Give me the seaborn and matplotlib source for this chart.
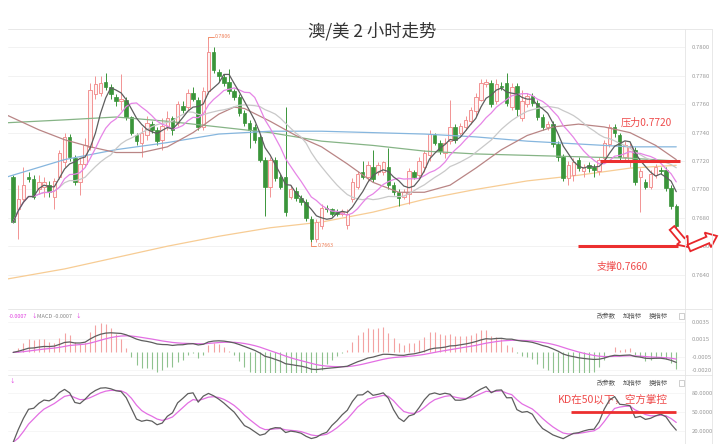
import numpy as np
import pandas as pd
import matplotlib
matplotlib.use("Agg")
import matplotlib.pyplot as plt
from matplotlib.lines import Line2D
from matplotlib.patches import FancyArrow, Rectangle
import seaborn as sns

# ---------------- data ----------------
title = "澳/美 2 小时走势"

open_ = [0.7709, 0.7686, 0.7693, 0.7709, 0.7707, 0.7700, 0.7702, 0.7703, 0.7695, 0.7709,
         0.7719, 0.7737, 0.7722, 0.7705, 0.7718, 0.7730, 0.7767, 0.7768, 0.7776, 0.7772,
         0.7765, 0.7762, 0.7763, 0.7751, 0.7738, 0.7733, 0.7738, 0.7746, 0.7742, 0.7735,
         0.7745, 0.7750, 0.7747, 0.7759, 0.7758, 0.7768, 0.7763, 0.7744, 0.7769, 0.7797,
         0.7783, 0.7779, 0.7776, 0.7769, 0.7765, 0.7754, 0.7747, 0.7744, 0.7737, 0.7721,
         0.7702, 0.7721, 0.7709, 0.7709, 0.7695, 0.7699, 0.7694, 0.7691, 0.7679, 0.7665,
         0.7674, 0.7687, 0.7686, 0.7684, 0.7683, 0.7675, 0.7693, 0.7702, 0.7712, 0.7709,
         0.7716, 0.7712, 0.7712, 0.7716, 0.7703, 0.7698, 0.7695, 0.7697, 0.7712, 0.7710,
         0.7716, 0.7724, 0.7738, 0.7733, 0.7726, 0.7734, 0.7744, 0.7740, 0.7744, 0.7748,
         0.7755, 0.7763, 0.7774, 0.7775, 0.7762, 0.7773, 0.7775, 0.7758, 0.7773, 0.7750,
         0.7760, 0.7766, 0.7761, 0.7751, 0.7744, 0.7746, 0.7732, 0.7723, 0.7708, 0.7710,
         0.7721, 0.7713, 0.7717, 0.7716, 0.7713, 0.7722, 0.7732, 0.7744, 0.7738, 0.7723,
         0.7720, 0.7728, 0.7709, 0.7705, 0.7702, 0.7710, 0.7714, 0.7714, 0.7701, 0.7688]

high = [0.7710, 0.7703, 0.7716, 0.7712, 0.7710, 0.7710, 0.7709, 0.7706, 0.7708, 0.7728,
        0.7740, 0.7739, 0.7724, 0.7722, 0.7736, 0.7775, 0.7780, 0.7780, 0.7782, 0.7774,
        0.7767, 0.7781, 0.7765, 0.7752, 0.7740, 0.7744, 0.7752, 0.7748, 0.7744, 0.7750,
        0.7755, 0.7752, 0.7762, 0.7762, 0.7771, 0.7772, 0.7765, 0.7772, 0.7806, 0.7800,
        0.7785, 0.7781, 0.7785, 0.7771, 0.7767, 0.7756, 0.7749, 0.7746, 0.7739, 0.7723,
        0.7723, 0.7723, 0.7711, 0.7758, 0.7703, 0.7702, 0.7696, 0.7693, 0.7681, 0.7679,
        0.7690, 0.7689, 0.7687, 0.7686, 0.7686, 0.7686, 0.7708, 0.7713, 0.7720, 0.7720,
        0.7728, 0.7719, 0.7720, 0.7729, 0.7705, 0.7700, 0.7700, 0.7715, 0.7714, 0.7723,
        0.7728, 0.7742, 0.7740, 0.7735, 0.7736, 0.7763, 0.7746, 0.7747, 0.7752, 0.7758,
        0.7768, 0.7778, 0.7778, 0.7777, 0.7778, 0.7776, 0.7782, 0.7775, 0.7775, 0.7770,
        0.7768, 0.7768, 0.7763, 0.7753, 0.7748, 0.7748, 0.7734, 0.7725, 0.7720, 0.7722,
        0.7723, 0.7718, 0.7719, 0.7718, 0.7723, 0.7735, 0.7746, 0.7746, 0.7740, 0.7734,
        0.7733, 0.7730, 0.7715, 0.7707, 0.7714, 0.7718, 0.7716, 0.7716, 0.7703, 0.7690]

low = [0.7676, 0.7665, 0.7691, 0.7705, 0.7693, 0.7697, 0.7695, 0.7695, 0.7686, 0.7707,
       0.7716, 0.7720, 0.7703, 0.7696, 0.7716, 0.7728, 0.7764, 0.7766, 0.7770, 0.7764,
       0.7759, 0.7756, 0.7749, 0.7738, 0.7731, 0.7723, 0.7735, 0.7740, 0.7731, 0.7728,
       0.7742, 0.7738, 0.7745, 0.7754, 0.7756, 0.7762, 0.7742, 0.7742, 0.7767, 0.7782,
       0.7776, 0.7773, 0.7767, 0.7763, 0.7752, 0.7745, 0.7729, 0.7733, 0.7719, 0.7681,
       0.7695, 0.7706, 0.7700, 0.7681, 0.7693, 0.7692, 0.7689, 0.7678, 0.7663, 0.7663,
       0.7672, 0.7684, 0.7681, 0.7681, 0.7681, 0.7672, 0.7691, 0.7700, 0.7707, 0.7706,
       0.7705, 0.7710, 0.7710, 0.7700, 0.7696, 0.7688, 0.7693, 0.7690, 0.7707, 0.7707,
       0.7712, 0.7720, 0.7731, 0.7725, 0.7722, 0.7732, 0.7733, 0.7738, 0.7742, 0.7746,
       0.7752, 0.7762, 0.7772, 0.7758, 0.7760, 0.7770, 0.7759, 0.7756, 0.7752, 0.7748,
       0.7758, 0.7759, 0.7749, 0.7742, 0.7742, 0.7730, 0.7720, 0.7706, 0.7703, 0.7706,
       0.7713, 0.7709, 0.7712, 0.7709, 0.7710, 0.7720, 0.7730, 0.7737, 0.7721, 0.7720,
       0.7716, 0.7703, 0.7684, 0.7700, 0.7700, 0.7708, 0.7711, 0.7699, 0.7686, 0.7672]

close = [0.7677, 0.7693, 0.7703, 0.7707, 0.7695, 0.7705, 0.7705, 0.7698, 0.7706, 0.7726,
         0.7737, 0.7723, 0.7705, 0.7718, 0.7731, 0.7770, 0.7774, 0.7775, 0.7772, 0.7767,
         0.7762, 0.7764, 0.7751, 0.7740, 0.7734, 0.7740, 0.7747, 0.7742, 0.7734, 0.7745,
         0.7750, 0.7742, 0.7760, 0.7756, 0.7768, 0.7764, 0.7744, 0.7769, 0.7797, 0.7784,
         0.7780, 0.7775, 0.7769, 0.7765, 0.7754, 0.7747, 0.7742, 0.7735, 0.7721, 0.7702,
         0.7721, 0.7708, 0.7702, 0.7684, 0.7700, 0.7694, 0.7691, 0.7680, 0.7665, 0.7677,
         0.7687, 0.7686, 0.7683, 0.7683, 0.7684, 0.7683, 0.7705, 0.7711, 0.7709, 0.7717,
         0.7707, 0.7717, 0.7719, 0.7703, 0.7698, 0.7694, 0.7698, 0.7713, 0.7709, 0.7720,
         0.7726, 0.7739, 0.7733, 0.7727, 0.7733, 0.7744, 0.7735, 0.7745, 0.7749, 0.7756,
         0.7765, 0.7775, 0.7776, 0.7760, 0.7774, 0.7772, 0.7761, 0.7772, 0.7757, 0.7762,
         0.7766, 0.7761, 0.7751, 0.7744, 0.7746, 0.7732, 0.7723, 0.7708, 0.7717, 0.7719,
         0.7715, 0.7716, 0.7715, 0.7714, 0.7721, 0.7733, 0.7744, 0.7740, 0.7723, 0.7731,
         0.7730, 0.7705, 0.7713, 0.7702, 0.7711, 0.7716, 0.7713, 0.7701, 0.7688, 0.7674]

# long moving averages at sample bars
long_idx = [-1, 10, 20, 30, 40, 50, 60, 70, 80, 90, 100, 110, 120, 129]
ma_orange = [0.7637, 0.7644, 0.7652, 0.7660, 0.7667, 0.7673, 0.7677, 0.7684, 0.7693, 0.7700,
             0.7706, 0.7710, 0.7715, 0.7717]
ma_green = [0.7747, 0.7749, 0.7751, 0.7748, 0.7744, 0.7740, 0.7734, 0.7731, 0.7727, 0.7725,
            0.7724, 0.7723, 0.7722, 0.7720]
ma_blue = [0.7709, 0.7721, 0.7728, 0.7733, 0.7739, 0.7741, 0.7741, 0.7740, 0.7739, 0.7737,
           0.7734, 0.7732, 0.7730, 0.7730]
brown_idx = [-1, 5, 10, 15, 20, 25, 30, 35, 40, 43, 45, 50, 55, 60, 65, 70, 75, 80, 85, 90,
             95, 100, 105, 110, 115, 120, 125, 129]
ma_brown = [0.7752, 0.7742, 0.7735, 0.7730, 0.7726, 0.7726, 0.7730, 0.7740, 0.7753, 0.7758,
            0.7757, 0.7748, 0.7738, 0.7730, 0.7718, 0.7705, 0.7698, 0.7698, 0.7703, 0.7715,
            0.7728, 0.7738, 0.7744, 0.7746, 0.7744, 0.7740, 0.7731, 0.7721]

price_ticks = [0.7640, 0.7660, 0.7680, 0.7700, 0.7720, 0.7740, 0.7760, 0.7780, 0.7800]
macd_ticks = [0.0035, 0.0015, -0.0005, -0.0020]
kd_ticks = [20, 50, 80]

resistance = 0.7720
support = 0.7660
kd_level = 50
resistance_text = "压力0.7720"
support_text = "支撑0.7660"
kd_text = "KD在50以下，空方掌控"
high_label = "0.7806"
low_label = "0.7663"
macd_head = ["-0.0007", "↓", "MACD -0.0007", "↓"]
buttons = ["改参数", "加指标", "换指标"]
hist_scale = 5  # the platform draws its MACD bars on a larger scale than the lines

# ---------------- indicators from the candles ----------------
df = pd.DataFrame({"open": open_, "high": high, "low": low, "close": close})
n = len(df)
df["x"] = np.arange(n)
df["ma5"] = df["close"].rolling(5, min_periods=1).mean()
df["ma10"] = df["close"].rolling(10, min_periods=1).mean()
df["ma20"] = df["close"].rolling(20, min_periods=1).mean()
ema12 = df["close"].ewm(span=12, adjust=False).mean()
ema26 = df["close"].ewm(span=26, adjust=False).mean()
df["dif"] = ema12 - ema26
df["dea"] = df["dif"].ewm(span=9, adjust=False).mean()
df["hist"] = hist_scale * (df["dif"] - df["dea"])
llv = df["low"].rolling(9, min_periods=1).min()
hhv = df["high"].rolling(9, min_periods=1).max()
rsv = (df["close"] - llv) / (hhv - llv) * 100
df["k"] = rsv.ewm(alpha=1 / 3, adjust=False).mean()
df["d"] = df["k"].ewm(alpha=1 / 3, adjust=False).mean()

# ---------------- styling ----------------
sns.set_theme(style="white")
plt.rcParams["font.family"] = ["Noto Sans CJK SC", "DejaVu Sans"]
plt.rcParams["axes.unicode_minus"] = False

W, H = 720, 444
fig = plt.figure(figsize=(7.2, 4.44), dpi=100)
fig.patch.set_facecolor("white")


def fx(px):
    return px / W


def fy(py):
    return 1 - py / H


L, R = 8, 685
ax = fig.add_axes([fx(L), fy(303), fx(R) - fx(L), fy(29) - fy(303)])
axm = fig.add_axes([fx(L), fy(373), fx(R) - fx(L), fy(311) - fy(373)])
axk = fig.add_axes([fx(L), fy(442), fx(R) - fx(L), fy(376) - fy(442)])

XLIM = (-1, 130.7)
for a in (ax, axm, axk):
    a.set_xlim(*XLIM)
    a.set_facecolor("white")
    for s in a.spines.values():
        s.set_visible(False)
    a.set_xticks([])
    a.yaxis.tick_right()
    a.tick_params(axis="y", length=0, labelsize=4.3, labelcolor="#9a9a9a", pad=5)

UP_EDGE = "#f29393"
UP_FACE = "#fff3f3"
DOWN = "#3a953a"

# candles
x = df["x"].values
o = df["open"].values
c = df["close"].values
hi = df["high"].values
lo = df["low"].values
up = c >= o
ax.vlines(x[up], lo[up], hi[up], color=UP_EDGE, lw=0.7, zorder=3)
ax.vlines(x[~up], lo[~up], hi[~up], color=DOWN, lw=0.7, zorder=3)
body_b = np.minimum(o, c)
body_h = np.maximum(np.abs(c - o), 0.00004)
ax.bar(x[up], body_h[up], bottom=body_b[up], width=0.68, color=UP_FACE,
       edgecolor=UP_EDGE, linewidth=0.7, zorder=4)
ax.bar(x[~up], body_h[~up], bottom=body_b[~up], width=0.68, color=DOWN,
       edgecolor=DOWN, linewidth=0.5, zorder=4)

# moving averages
sns.lineplot(x=long_idx, y=ma_orange, ax=ax, color="#f7cc94", lw=0.9, zorder=2, legend=False)
sns.lineplot(x=long_idx, y=ma_green, ax=ax, color="#86b486", lw=0.9, zorder=5, legend=False)
sns.lineplot(x=long_idx, y=ma_blue, ax=ax, color="#86b6de", lw=0.9, zorder=5, legend=False)
sns.lineplot(x=brown_idx, y=ma_brown, ax=ax, color="#b98585", lw=0.9, zorder=5, legend=False)
sns.lineplot(data=df, x="x", y="ma20", ax=ax, color="#c9c9c9", lw=0.9, zorder=5, legend=False)
sns.lineplot(data=df, x="x", y="ma10", ax=ax, color="#e685e6", lw=0.9, zorder=6, legend=False)
sns.lineplot(data=df, x="x", y="ma5", ax=ax, color="#5e5e5e", lw=0.9, zorder=7, legend=False)

ax.set_ylim(0.7620, 0.7813)
ax.set_yticks(price_ticks)
ax.set_yticklabels([f"{t:.4f}" for t in price_ticks])
for t in price_ticks:
    ax.axhline(t, color="#f0f0f0", lw=0.6, zorder=0)
ax.set_xlabel("")
ax.set_ylabel("")

# high / low markers
ih = int(np.argmax(hi))
il = int(np.argmin(lo))
EXT = "#ef7d55"
ax.plot([ih, ih, ih + 1.0], [hi[ih], hi[ih] + 0.00017, hi[ih] + 0.00017], color=EXT, lw=0.6, zorder=8)
ax.text(ih + 1.3, hi[ih] + 0.00017, high_label, color=EXT, fontsize=3.8, va="center", ha="left")
ax.plot([il, il, il + 1.0], [lo[il], lo[il] - 0.00025, lo[il] - 0.00025], color=EXT, lw=0.6, zorder=8)
ax.text(il + 1.3, lo[il] - 0.00025, low_label, color=EXT, fontsize=3.8, va="center", ha="left")

# resistance / support
RED = "#ec2f2f"
TXT_RED = "#ef4b4b"
ax.plot([114.2, 129.8], [resistance, resistance], color=RED, lw=2.2, zorder=9, solid_capstyle="butt")
ax.plot([109.9, 129.4], [support, support], color=RED, lw=2.2, zorder=9, solid_capstyle="butt")
ax.text(123.2, 0.7747, resistance_text, color=TXT_RED, fontsize=7.3, ha="center", va="center")
ax.text(118.5, 0.76455, support_text, color=TXT_RED, fontsize=7.3, ha="center", va="center")

# MACD panel
hist = df["hist"].values
hcol = ["#f3a2a2" if v > 0 else "#8fc28f" for v in hist]
axm.vlines(x, 0, hist, colors=hcol, lw=0.8, zorder=2)
sns.lineplot(data=df, x="x", y="dea", ax=axm, color="#e36fe3", lw=0.9, zorder=3, legend=False)
sns.lineplot(data=df, x="x", y="dif", ax=axm, color="#5e5e5e", lw=0.9, zorder=4, legend=False)
axm.set_ylim(-0.00234, 0.0047)
axm.set_yticks(macd_ticks)
axm.set_yticklabels([f"{t:.4f}" for t in macd_ticks])
for t in macd_ticks:
    axm.axhline(t, color="#f3f3f3", lw=0.5, zorder=0)
axm.set_xlabel("")
axm.set_ylabel("")

# KD panel
sns.lineplot(data=df, x="x", y="d", ax=axk, color="#e36fe3", lw=0.9, zorder=3, legend=False)
sns.lineplot(data=df, x="x", y="k", ax=axk, color="#5e5e5e", lw=0.9, zorder=4, legend=False)
axk.set_ylim(3.5, 105.5)
axk.set_yticks(kd_ticks)
axk.set_yticklabels([f"{t:.4f}" for t in kd_ticks])
for t in kd_ticks:
    axk.axhline(t, color="#f3f3f3", lw=0.5, zorder=0)
axk.plot([108.5, 129.0], [kd_level, kd_level], color=RED, lw=2.0, zorder=9, solid_capstyle="butt")
axk.text(116.7, 69.5, kd_text, color=TXT_RED, fontsize=7.6, ha="center", va="center")
axk.set_xlabel("")
axk.set_ylabel("")

# frame lines
LINE = "#e4e4e4"
for yy in (29, 309, 375):
    fig.add_artist(Line2D([fx(L), fx(712)], [fy(yy), fy(yy)], transform=fig.transFigure, color=LINE, lw=0.6))
for xx in (R, 712):
    fig.add_artist(Line2D([fx(xx), fx(xx)], [fy(29), fy(444)], transform=fig.transFigure, color=LINE, lw=0.6))

# title
fig.text(fx(372), fy(31), title, fontsize=12.5, color="#333333", ha="center", va="center")

# panel headers
HEAD_Y = 316
fig.text(fx(9), fy(HEAD_Y), macd_head[0], color="#e040e0", fontsize=4.0, va="center")
fig.text(fx(31), fy(HEAD_Y), macd_head[1], color="#e040e0", fontsize=4.0, va="center")
fig.text(fx(37), fy(HEAD_Y), macd_head[2], color="#888888", fontsize=4.0, va="center")
fig.text(fx(75), fy(HEAD_Y), macd_head[3], color="#e040e0", fontsize=4.0, va="center")
fig.text(fx(9), fy(381), "↓", color="#e040e0", fontsize=4.0, va="center")

for hy in (HEAD_Y, 383):
    for lab, bx in zip(buttons, (597, 623, 649)):
        fig.text(fx(bx), fy(hy), lab, color="#555555", fontsize=4.6, va="center")
    fig.add_artist(Rectangle((679 / 100, (H - hy - 3) / 100), 0.05, 0.06, transform=fig.dpi_scale_trans,
                             fill=False, edgecolor="#bbbbbb", lw=0.5))

# hollow red arrows
ARW = "#e8262b"
fig.add_artist(FancyArrow(6.72, 2.16, 0.16, -0.19, width=0.06, head_width=0.14, head_length=0.09,
                          length_includes_head=True, fc="white", ec=ARW, lw=1.3,
                          transform=fig.dpi_scale_trans))
fig.add_artist(FancyArrow(6.89, 1.96, 0.28, 0.12, width=0.07, head_width=0.16, head_length=0.1,
                          length_includes_head=True, fc="white", ec=ARW, lw=1.3,
                          transform=fig.dpi_scale_trans))

fig.savefig("out.png", dpi=100)
